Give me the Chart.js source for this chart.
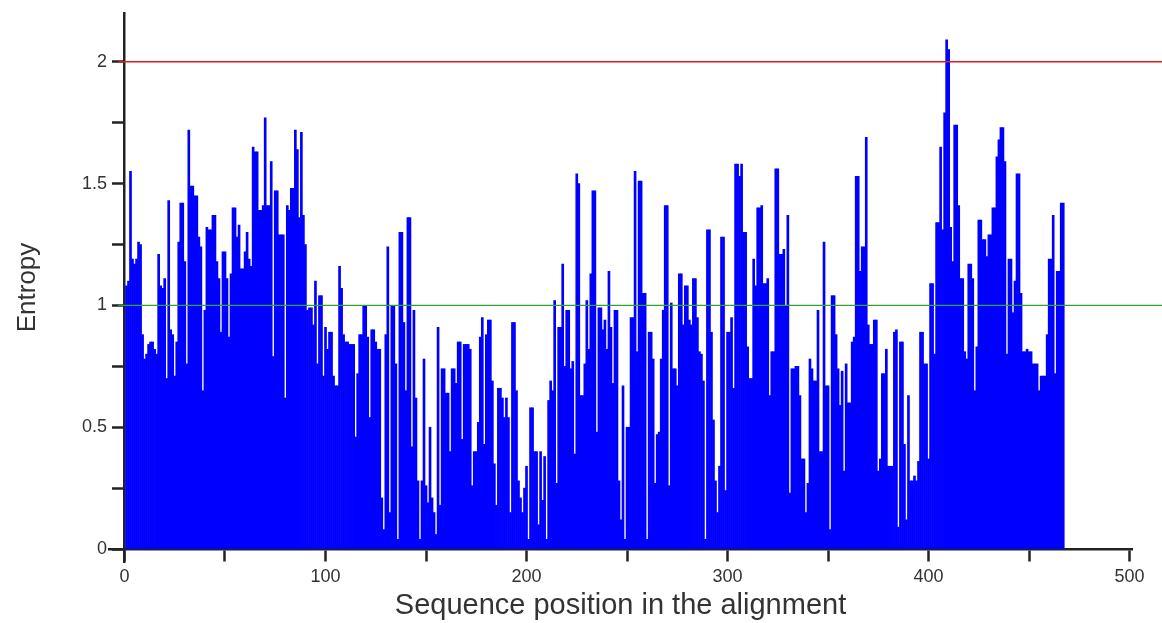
<!DOCTYPE html>
<html>
<head>
<meta charset="utf-8">
<script src="https://cdn.jsdelivr.net/npm/chart.js@4"></script>
<style>
  html, body { margin: 0; padding: 0; background: #fff; }
  #wrap { width: 1162px; height: 623px; }
</style>
</head>
<body>
<div id="wrap"><canvas id="entropyChart"></canvas></div>
<script>
// entropy per alignment position (positions 1..467)
const entropy = [
  1.08, 1.10, 1.55, 1.19, 1.17, 1.19, 1.26, 1.25, 0.88, 0.78,
  0.80, 0.84, 0.85, 0.85, 0.82, 0.80, 1.21, 1.08, 1.07, 1.11,
  0.70, 1.43, 0.90, 0.88, 0.71, 0.85, 1.26, 1.42, 1.42, 1.18,
  0.76, 1.72, 1.49, 1.49, 1.45, 1.45, 1.28, 1.24, 0.65, 0.98,
  1.32, 1.31, 1.31, 1.37, 1.37, 1.18, 1.11, 0.89, 1.22, 1.22,
  1.11, 0.87, 1.13, 1.40, 1.40, 1.28, 1.33, 1.15, 1.15, 1.22,
  1.30, 1.19, 1.16, 1.65, 1.63, 1.63, 1.39, 1.39, 1.41, 1.77,
  1.41, 1.41, 1.59, 0.79, 1.47, 1.47, 1.29, 1.29, 1.29, 0.62,
  1.41, 1.39, 1.48, 1.48, 1.72, 1.64, 1.36, 1.71, 1.37, 1.25,
  0.98, 0.99, 0.99, 0.92, 1.10, 0.76, 1.04, 1.04, 0.71, 0.91,
  0.82, 0.89, 0.89, 0.71, 0.67, 0.67, 1.16, 1.07, 0.88, 0.85,
  0.85, 0.84, 0.84, 0.84, 0.46, 0.72, 0.88, 0.88, 1.00, 1.00,
  0.87, 0.54, 0.90, 0.90, 0.85, 0.82, 0.82, 0.21, 0.08, 0.88,
  1.24, 0.15, 1.00, 1.00, 0.76, 0.04, 1.30, 1.30, 0.93, 0.65,
  1.36, 1.36, 0.42, 0.98, 0.62, 0.28, 0.04, 0.28, 0.78, 0.26,
  0.19, 0.50, 0.21, 0.15, 0.06, 0.91, 0.18, 0.74, 0.74, 0.64,
  0.64, 0.40, 0.74, 0.74, 0.68, 0.85, 0.85, 0.45, 0.84, 0.84,
  0.84, 0.82, 0.26, 0.40, 0.40, 0.52, 0.87, 0.95, 0.43, 0.88,
  0.94, 0.94, 0.69, 0.35, 0.18, 0.66, 0.66, 0.62, 0.54, 0.62,
  0.54, 0.15, 0.93, 0.93, 0.65, 0.28, 0.21, 0.15, 0.25, 0.34,
  0.04, 0.58, 0.58, 0.40, 0.40, 0.10, 0.40, 0.20, 0.38, 0.04,
  0.61, 0.69, 0.65, 1.02, 0.27, 0.91, 0.91, 1.17, 0.75, 0.98,
  0.98, 0.74, 0.77, 0.39, 1.54, 1.50, 0.63, 0.63, 0.76, 1.02,
  0.82, 1.13, 1.47, 1.47, 0.48, 0.99, 0.99, 0.90, 0.94, 0.82,
  1.14, 0.91, 0.68, 0.98, 0.98, 0.28, 0.12, 0.67, 0.04, 0.50,
  0.50, 0.95, 0.95, 1.55, 0.81, 1.51, 1.51, 1.05, 1.05, 0.04,
  0.89, 0.89, 0.78, 0.27, 0.47, 0.48, 0.78, 0.98, 1.41, 1.41,
  0.26, 1.01, 0.74, 0.74, 0.67, 1.13, 1.13, 0.92, 1.08, 1.08,
  0.94, 0.92, 1.11, 1.11, 0.95, 0.81, 0.80, 0.69, 0.04, 1.31,
  1.31, 0.89, 0.53, 0.28, 0.15, 0.34, 1.28, 1.28, 0.24, 0.89,
  0.89, 0.95, 0.66, 1.58, 1.58, 1.53, 1.58, 1.30, 1.30, 0.83,
  0.70, 0.70, 1.19, 1.08, 1.40, 1.40, 1.41, 1.09, 1.09, 1.11,
  0.63, 0.81, 0.81, 1.56, 1.56, 1.21, 1.21, 1.23, 1.00, 1.37,
  0.23, 0.74, 0.74, 0.75, 0.75, 0.63, 0.37, 0.37, 0.15, 0.27,
  0.78, 0.74, 0.69, 0.69, 0.98, 0.40, 0.40, 1.26, 0.67, 0.67,
  0.08, 1.04, 1.04, 0.88, 0.74, 0.59, 0.73, 0.32, 0.76, 0.60,
  0.60, 0.85, 0.87, 1.53, 1.53, 1.14, 1.24, 1.24, 1.69, 0.92,
  0.84, 0.84, 0.94, 0.94, 0.32, 0.37, 0.72, 0.72, 0.82, 0.34,
  0.34, 0.34, 0.89, 0.90, 0.09, 0.85, 0.85, 0.43, 0.12, 0.63,
  0.28, 0.28, 0.30, 0.28, 0.36, 0.89, 0.89, 0.76, 0.76, 0.37,
  1.09, 1.09, 0.80, 1.34, 1.34, 1.65, 1.31, 1.79, 2.09, 2.05,
  1.32, 1.18, 1.74, 1.74, 1.41, 1.11, 1.11, 0.81, 0.78, 1.17,
  1.17, 1.11, 0.65, 0.83, 1.35, 1.35, 1.27, 1.27, 1.20, 1.29,
  1.29, 1.40, 1.40, 1.61, 1.68, 1.73, 1.73, 1.59, 0.80, 1.19,
  1.19, 0.97, 1.10, 1.54, 1.54, 1.05, 0.81, 0.81, 0.82, 0.81,
  0.81, 0.76, 0.76, 0.76, 0.65, 0.71, 0.71, 0.71, 0.88, 1.19,
  1.19, 1.37, 0.72, 1.14, 1.14, 1.42, 1.42
];

// tick positions
const xTicks = [0, 50, 100, 150, 200, 250, 300, 350, 400, 450, 500];
const xLabelled = [0, 100, 200, 300, 400, 500];
const yTicks = [0, 0.25, 0.5, 0.75, 1, 1.25, 1.5, 1.75, 2];
const yLabelled = [0, 0.5, 1, 1.5, 2];

// threshold lines
const thresholdLevels = [2, 1];
const thresholdColors = ['#e01c1c', '#2ea62e'];
const thresholdSpan = [-3, 525];

const axisColor = '#222';
const textColor = '#333';
const fontFamily = '"Liberation Sans", Arial, sans-serif';
const yMin = -0.053, yMax = 2.2;

const barData = entropy.map((v, i) => ({ x: i + 1, y: v }));

const lineSets = thresholdLevels.map((lvl, i) => ({
    type: 'line',
    data: thresholdSpan.map(x => ({ x: x, y: lvl })),
    borderColor: thresholdColors[i],
    borderWidth: 1.3,
    pointRadius: 0,
    clip: false,
    order: 0
}));

const ctx = document.getElementById('entropyChart').getContext('2d');

new Chart(ctx, {
    type: 'bar',
    data: {
        datasets: [
            ...lineSets,
            {
                type: 'bar',
                data: barData,
                backgroundColor: '#0000ff',
                borderWidth: 0,
                barPercentage: 1,
                categoryPercentage: 1,
                grouped: false,
                order: 1
            }
        ]
    },
    options: {
        responsive: true,
        maintainAspectRatio: false,
        animation: false,
        layout: { padding: { left: 0, right: 30, top: 13, bottom: 61 } },
        plugins: {
            legend: { display: false },
            tooltip: { enabled: false }
        },
        scales: {
            x: {
                type: 'linear',
                min: -7.7,
                max: 501.2,
                offset: false,
                position: { y: 0 },
                afterBuildTicks: s => { s.ticks = xTicks.map(v => ({ value: v })); },
                ticks: {
                    color: textColor,
                    font: { family: fontFamily, size: 18 },
                    padding: 6,
                    maxRotation: 0,
                    autoSkip: false,
                    callback: v => xLabelled.includes(v) ? String(v) : ''
                },
                grid: {
                    offset: false,
                    drawOnChartArea: false,
                    drawTicks: true,
                    tickLength: 11,
                    tickWidth: 2.5,
                    tickColor: axisColor
                },
                border: { display: true, color: axisColor, width: 2.5 },
                title: {
                    display: true,
                    text: 'Sequence position in the alignment',
                    color: textColor,
                    font: { family: fontFamily, size: 29 },
                    padding: { top: -5, bottom: 0 }
                }
            },
            y: {
                type: 'linear',
                min: yMin,
                max: yMax,
                position: { x: 0 },
                afterBuildTicks: s => { s.ticks = yTicks.map(v => ({ value: v })); },
                ticks: { display: false },
                grid: {
                    drawOnChartArea: false,
                    drawTicks: true,
                    tickLength: 11,
                    tickWidth: 2.5,
                    tickColor: axisColor
                },
                border: { display: true, color: axisColor, width: 2.5 }
            },
            yLabels: {
                type: 'linear',
                min: yMin,
                max: yMax,
                position: 'left',
                afterBuildTicks: s => { s.ticks = yTicks.map(v => ({ value: v })); },
                afterFit: s => { s.width = 109; },
                ticks: {
                    color: textColor,
                    font: { family: fontFamily, size: 18 },
                    padding: 2,
                    autoSkip: false,
                    callback: v => yLabelled.includes(v) ? String(v) : ''
                },
                grid: { display: false, drawTicks: false },
                border: { display: false },
                title: {
                    display: true,
                    text: 'Entropy',
                    color: textColor,
                    font: { family: fontFamily, size: 26 },
                    padding: { top: 12, bottom: 0 }
                }
            }
        }
    }
});
</script>
</body>
</html>
